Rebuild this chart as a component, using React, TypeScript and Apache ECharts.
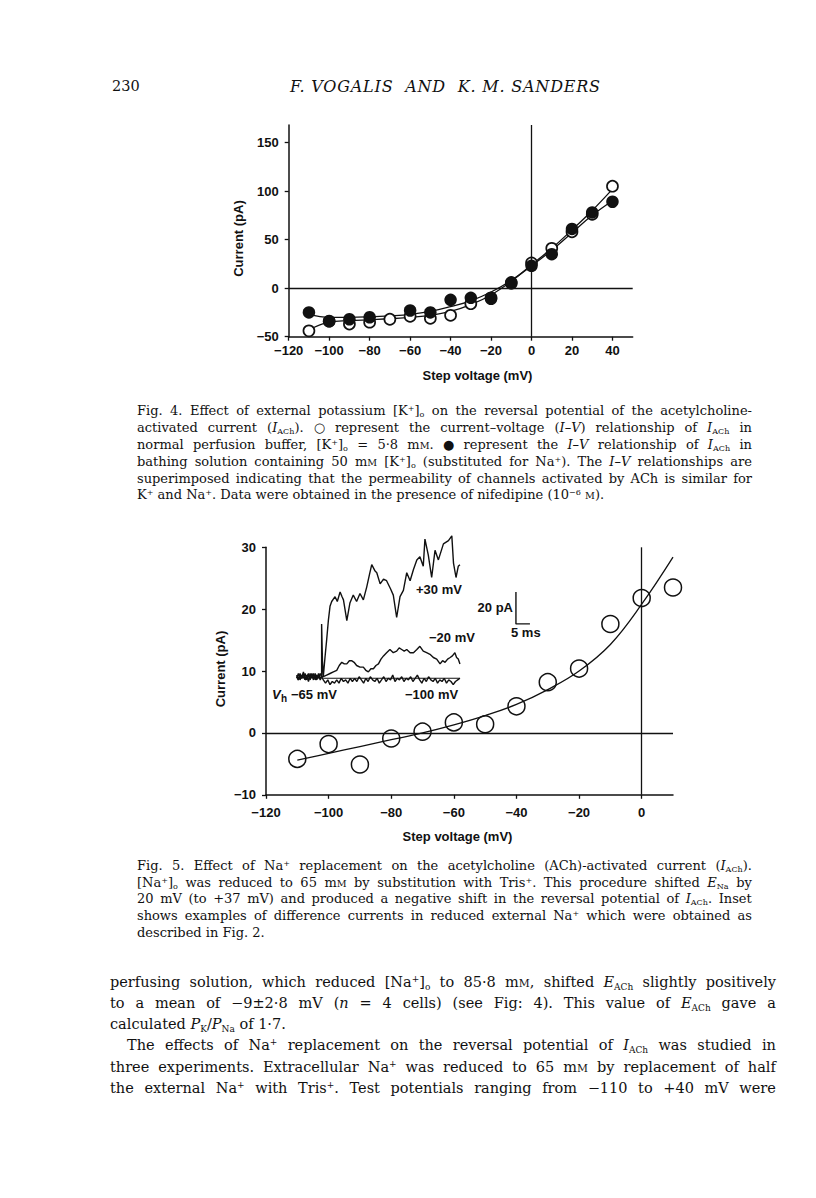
import React, { useEffect, useRef } from "react";
import * as echarts from "echarts";

// ---------- Fig. 4 data ----------
const fig4Volts = [-110, -100, -90, -80, -70, -60, -50, -40, -30, -20, -10, 0, 10, 20, 30, 40];
const fig4Open = [-44, -34, -37, -35, -32, -29, -31, -28, -16, -10, 5, 26, 41, 58, 76, 105];
const fig4FilledVolts = [-110, -100, -90, -80, -60, -50, -40, -30, -20, -10, 0, 10, 20, 30, 40];
const fig4Filled = [-25, -34, -32, -30, -23, -25, -12, -10, -11, 6, 23, 35, 61, 78, 89];
const fig4FitOpen = [-43, -35, -33.5, -32.5, -31.5, -30, -28, -24, -17, -7, 7, 24, 41, 60, 80, 102];
const fig4FitFilled = [-27, -30, -30, -29.5, -28.5, -27, -24, -19, -13, -4, 8, 23, 39, 57, 75, 90];
const fig4XTicks = [-120, -100, -80, -60, -40, -20, 0, 20, 40];
const fig4YTicks = [-50, 0, 50, 100, 150];

// ---------- Fig. 5 data ----------
const fig5Volts = [-110, -100, -90, -80, -70, -60, -50, -40, -30, -20, -10, 0, 10];
const fig5Current = [-4.2, -1.8, -5.1, -0.9, 0.2, 1.7, 1.4, 4.3, 8.2, 10.4, 17.6, 21.8, 23.5];
const fig5Fit = [-4.4, -3.3, -2.2, -1.1, 0, 1.3, 2.8, 4.6, 7, 10, 14.3, 20.8, 28.4];
const fig5XTicks = [-120, -100, -80, -60, -40, -20, 0];
const fig5YTicks = [-10, 0, 10, 20, 30];

// ---------- Inset traces: [time ms, current pA] ----------
const tracePlus30 = [
  [0, 1], [0.6, -2], [1.2, 2], [1.8, -1], [2.4, 3], [3, -2], [3.6, 1], [4.2, -3], [4.8, 2], [5.4, -1],
  [6, 2], [6.6, -2], [7.2, 1], [7.8, -1], [8.4, 2], [8.9, 0], [8.9, 33], [9.2, 10], [9.5, 0], [10.1, 12],
  [10.7, 23], [11.3, 35], [11.9, 44], [12.5, 47], [13.7, 50], [14.5, 47], [15.5, 53], [16.2, 50], [16.7, 48],
  [17.9, 35], [19, 46], [20.2, 51], [21.4, 47], [22.6, 52], [23.8, 48], [25, 56], [26, 64], [26.8, 70],
  [28, 66], [28.6, 65], [29.8, 58], [31, 61], [32.1, 60], [33.5, 55], [34.5, 51], [35.7, 37], [36.9, 50],
  [38.1, 54], [39.3, 65], [40.5, 60], [41.7, 67], [42.9, 73], [44, 75], [45.2, 69], [45.8, 86], [47, 76],
  [48.2, 62], [49.4, 79], [50.6, 73], [52.4, 83], [54.2, 85], [55.4, 88], [56, 71], [56.9, 62], [57.7, 69],
  [58.3, 70],
];
const traceMinus20 = [
  [0, -1], [0.6, 2], [1.2, -2], [1.8, 1], [2.4, -1], [3, 2], [3.6, -2], [4.2, 1], [4.8, -2], [5.4, 2],
  [6, -1], [6.6, 1], [7.2, -2], [7.8, 2], [8.4, -1], [8.9, 0], [9.5, 0], [10.7, 1], [11.9, 2], [13.1, 3],
  [14.3, 4], [15.2, 7], [16.1, 9], [17, 8], [17.9, 8], [18.8, 10], [19.6, 10], [20.5, 9], [21.4, 7],
  [22.6, 6], [23.8, 6], [24.7, 4], [25.6, 3], [26.5, 5], [27.4, 5], [28.3, 7], [29.2, 8], [30.1, 11],
  [31, 13], [32.1, 15], [33.3, 17], [34.5, 15], [35.7, 16], [36.6, 18], [37.5, 17], [38.4, 16], [39.3, 17],
  [40.5, 15], [41.7, 15], [42.9, 17], [44, 19], [45.2, 16], [46.4, 15], [47.6, 14], [48.8, 12], [50, 11],
  [51.2, 8], [52.1, 10], [53, 9], [53.9, 11], [54.8, 12], [55.6, 13], [56.5, 15], [57.1, 12], [57.7, 11],
  [58.3, 8],
];
const traceMinus100 = [
  [0, 0], [0.6, -2], [1.2, 1], [1.8, -1], [2.4, 2], [3, -2], [3.6, 0], [4.2, 2], [4.8, -1], [5.4, 1],
  [6, -2], [6.6, 2], [7.2, -1], [7.8, 1], [8.4, -2], [8.9, 0], [9.5, -2], [10.3, -4], [11.1, -2], [11.9, -5],
  [12.7, -3], [13.5, -4], [14.3, -2], [15.1, -4], [15.9, -1], [16.7, -3], [17.5, -2], [18.3, -4], [19.1, -1],
  [19.9, -3], [20.7, -1], [21.5, -3], [22.3, 0], [23.1, -2], [23.9, -4], [24.7, -1], [25.5, -3], [26.3, 0],
  [27.1, -2], [27.9, -3], [28.7, -1], [29.5, -4], [30.3, -2], [31.1, 0], [31.9, -3], [32.7, -1], [33.5, -2],
  [34.3, 1], [35.1, -3], [35.9, -1], [36.7, -2], [37.5, 0], [38.3, -3], [39.1, -1], [39.9, -2], [40.7, 0],
  [41.5, -3], [42.3, -1], [43.1, 1], [43.9, -2], [44.7, -4], [45.5, -1], [46.3, -3], [47.1, 0], [47.9, -2],
  [48.7, -3], [49.5, -1], [50.3, -4], [51.1, -2], [51.9, -3], [52.7, -1], [53.5, -4], [54.3, -2], [55.1, -3],
  [55.9, -5], [56.7, -3], [57.5, -2], [58.3, -1],
];
const insetBaseline = [[9.5, -1], [58.3, -1]];
const scaleBar = [[78.3, 53], [78.3, 33], [83.3, 33]];

// ---------- Page text ----------
const fig4Caption = [
  "Fig. 4. Effect of external potassium [K<sup>+</sup>]<sub>o</sub> on the reversal potential of the acetylcholine-",
  "activated current (<i>I</i><sub>ACh</sub>). ○ represent the current–voltage (<i>I–V</i>) relationship of <i>I</i><sub>ACh</sub> in",
  "normal perfusion buffer, [K<sup>+</sup>]<sub>o</sub> = 5·8 m<small>M</small>. ● represent the <i>I–V</i> relationship of <i>I</i><sub>ACh</sub> in",
  "bathing solution containing 50 m<small>M</small> [K<sup>+</sup>]<sub>o</sub> (substituted for Na<sup>+</sup>). The <i>I–V</i> relationships are",
  "superimposed indicating that the permeability of channels activated by ACh is similar for",
  "K<sup>+</sup> and Na<sup>+</sup>. Data were obtained in the presence of nifedipine (10<sup>−6</sup> <small>M</small>).",
];
const fig5Caption = [
  "Fig. 5. Effect of Na<sup>+</sup> replacement on the acetylcholine (ACh)-activated current (<i>I</i><sub>ACh</sub>).",
  "[Na<sup>+</sup>]<sub>o</sub> was reduced to 65 m<small>M</small> by substitution with Tris<sup>+</sup>. This procedure shifted <i>E</i><sub>Na</sub> by",
  "20 mV (to +37 mV) and produced a negative shift in the reversal potential of <i>I</i><sub>ACh</sub>. Inset",
  "shows examples of difference currents in reduced external Na<sup>+</sup> which were obtained as",
  "described in Fig. 2.",
];
const bodyLines = [
  "perfusing solution, which reduced [Na<sup>+</sup>]<sub>o</sub> to 85·8 m<small>M</small>, shifted <i>E</i><sub>ACh</sub> slightly positively",
  "to a mean of −9±2·8 mV (<i>n</i> = 4 cells) (see Fig: 4). This value of <i>E</i><sub>ACh</sub> gave a",
  "calculated <i>P</i><sub>K</sub>/<i>P</i><sub>Na</sub> of 1·7.",
  "The effects of Na<sup>+</sup> replacement on the reversal potential of <i>I</i><sub>ACh</sub> was studied in",
  "three experiments. Extracellular Na<sup>+</sup> was reduced to 65 m<small>M</small> by replacement of half",
  "the external Na<sup>+</sup> with Tris<sup>+</sup>. Test potentials ranging from −110 to +40 mV were",
];

const fig4CaptionY = [410, 427, 444, 461, 478, 494];
const fig5CaptionY = [865, 882, 898, 915, 932];
const bodyY = [982, 1003, 1024, 1045, 1067, 1088];

const SANS = "'Liberation Sans', Arial, Helvetica, sans-serif";
const SERIF = "'DejaVu Serif', 'Liberation Serif', serif";
const INK = "#111";

const fmt = (v: number) => (v < 0 ? "\u2212" + Math.abs(v) : String(v));

function zip(xs: number[], ys: number[]) {
  return xs.map((x, i) => [x, ys[i]]);
}

function valueAxis(grid: number, min: number, max: number, ticks: number[] | null, margin: number) {
  const base: any = {
    type: "value",
    gridIndex: grid,
    min,
    max,
    axisLine: { show: true, onZero: false, lineStyle: { color: INK, width: 1.5 } },
    axisTick: { show: true, length: 4, lineStyle: { color: INK, width: 1.3 } },
    splitLine: { show: false },
    axisLabel: {
      color: INK,
      fontFamily: SANS,
      fontWeight: "bold",
      fontSize: 13,
      margin,
      formatter: fmt,
    },
  };
  if (ticks) {
    base.axisTick.customValues = ticks;
    base.axisLabel.customValues = ticks;
  }
  return base;
}

const zeroMark = {
  silent: true,
  symbol: ["none", "none"],
  label: { show: false },
  lineStyle: { color: INK, width: 1.3, type: "solid" },
  data: [{ xAxis: 0 }, { yAxis: 0 }],
};

function txt(text: string, x: number, y: number, opts: any = {}) {
  return {
    type: "text",
    x,
    y,
    rotation: opts.rotation || 0,
    style: {
      text,
      x: 0,
      y: 0,
      fill: INK,
      font: `${opts.italic ? "italic " : ""}${opts.weight || "bold"} ${opts.size || 13}px ${SANS}`,
      align: opts.align || "center",
      verticalAlign: "middle",
    },
  };
}

function buildOption(): any {
  return {
    animation: false,
    backgroundColor: "transparent",
    grid: [
      { left: 288.7, top: 125, width: 344, height: 211.7 },
      { left: 266, top: 547.3, width: 407, height: 247.5 },
      { left: 296.7, top: 532.7, width: 252, height: 160 },
    ],
    xAxis: [
      valueAxis(0, -120, 50, fig4XTicks, 7),
      valueAxis(1, -120, 10, fig5XTicks, 11),
      { type: "value", gridIndex: 2, min: 0, max: 90, show: false },
    ],
    yAxis: [
      valueAxis(0, -50, 168, fig4YTicks, 10),
      valueAxis(1, -10, 30, fig5YTicks, 10),
      { type: "value", gridIndex: 2, min: -10, max: 90, show: false },
    ],
    series: [
      {
        type: "line", xAxisIndex: 0, yAxisIndex: 0, data: zip(fig4Volts, fig4FitOpen),
        smooth: 0.4, symbol: "none", lineStyle: { color: INK, width: 1.3 }, z: 2, markLine: zeroMark,
      },
      {
        type: "line", xAxisIndex: 0, yAxisIndex: 0, data: zip(fig4Volts, fig4FitFilled),
        smooth: 0.4, symbol: "none", lineStyle: { color: INK, width: 1.3 }, z: 2,
      },
      {
        type: "scatter", xAxisIndex: 0, yAxisIndex: 0, data: zip(fig4Volts, fig4Open),
        symbol: "circle", symbolSize: 11, itemStyle: { color: "#fff", borderColor: INK, borderWidth: 1.7, opacity: 1 }, z: 3,
      },
      {
        type: "scatter", xAxisIndex: 0, yAxisIndex: 0, data: zip(fig4FilledVolts, fig4Filled),
        symbol: "circle", symbolSize: 12.5, itemStyle: { color: INK, opacity: 1 }, z: 4,
      },
      {
        type: "line", xAxisIndex: 1, yAxisIndex: 1, data: zip(fig5Volts, fig5Fit),
        smooth: 0.4, symbol: "none", lineStyle: { color: INK, width: 1.3 }, z: 2, markLine: zeroMark,
      },
      {
        type: "scatter", xAxisIndex: 1, yAxisIndex: 1, data: zip(fig5Volts, fig5Current),
        symbol: "circle", symbolSize: 17, itemStyle: { color: "rgba(255,255,255,0)", borderColor: INK, borderWidth: 1.5, opacity: 1 }, z: 3,
      },
      {
        type: "line", xAxisIndex: 2, yAxisIndex: 2, data: tracePlus30,
        symbol: "none", lineStyle: { color: INK, width: 1.4 }, z: 5,
      },
      {
        type: "line", xAxisIndex: 2, yAxisIndex: 2, data: traceMinus20,
        symbol: "none", lineStyle: { color: INK, width: 1.4 }, z: 5,
      },
      {
        type: "line", xAxisIndex: 2, yAxisIndex: 2, data: traceMinus100,
        symbol: "none", lineStyle: { color: INK, width: 1.4 }, z: 5,
      },
      {
        type: "line", xAxisIndex: 2, yAxisIndex: 2, data: insetBaseline,
        symbol: "none", lineStyle: { color: INK, width: 1.1 }, z: 5,
      },
      {
        type: "line", xAxisIndex: 2, yAxisIndex: 2, data: scaleBar,
        symbol: "none", lineStyle: { color: INK, width: 1.4 }, z: 5,
      },
    ],
    graphic: [
      txt("Current (pA)", 238, 238.5, { rotation: Math.PI / 2 }),
      txt("Step voltage (mV)", 477.5, 375),
      txt("Current (pA)", 220, 669, { rotation: Math.PI / 2 }),
      txt("Step voltage (mV)", 457.5, 836.7),
      txt("+30 mV", 416, 589, { align: "left" }),
      txt("20 pA", 513, 607, { align: "right" }),
      txt("5 ms", 511, 632, { align: "left" }),
      txt("\u221220 mV", 429, 637, { align: "left" }),
      txt("V", 272, 694, { align: "left", italic: true }),
      txt("h", 281, 698, { align: "left", size: 10 }),
      txt("\u221265 mV", 291, 694, { align: "left" }),
      txt("\u2212100 mV", 405, 694, { align: "left" }),
    ],
  };
}

function TextLine(props: { html: string; x: number; y: number; w: number; size: number; justify: boolean; italic?: boolean; spacing?: number }) {
  const { html, x, y, w, size, justify, italic, spacing } = props;
  const lh = Math.round(size * 1.3);
  const style: any = {
    position: "absolute",
    left: x,
    top: y - lh / 2,
    width: w,
    height: lh,
    lineHeight: lh + "px",
    fontSize: size,
    fontFamily: SERIF,
    fontStyle: italic ? "italic" : "normal",
    letterSpacing: spacing ? spacing + "px" : "normal",
    color: INK,
    whiteSpace: "nowrap",
  };
  if (justify) {
    const words = html.split(" ");
    return (
      <div style={{ ...style, display: "flex", justifyContent: "space-between" }}>
        {words.map((wd, i) => (
          <span key={i} dangerouslySetInnerHTML={{ __html: wd }} />
        ))}
      </div>
    );
  }
  return <div style={style} dangerouslySetInnerHTML={{ __html: html }} />;
}

export default function App() {
  const ref = useRef<HTMLDivElement>(null);
  useEffect(() => {
    if (!ref.current) return;
    const chart = echarts.init(ref.current, null, { renderer: "svg", width: 816, height: 1198 });
    chart.setOption(buildOption());
    return () => chart.dispose();
  }, []);

  const capX = 137;
  const capW = 615;
  const bodyX = 110;
  const bodyW = 666;
  const indent = 17;

  return (
    <div className="pg" style={{ position: "absolute", left: 0, top: 0, width: 816, height: 1198, background: "#fff", overflow: "hidden" }}>
      <style>{`
        .pg sub { font-size: 0.62em; vertical-align: -0.28em; line-height: 0; }
        .pg sup { font-size: 0.62em; vertical-align: 0.55em; line-height: 0; }
        .pg small { font-size: 0.74em; }
      `}</style>
      <div ref={ref} style={{ position: "absolute", left: 0, top: 0, width: 816, height: 1198 }} />
      <TextLine html="230" x={112} y={86} w={40} size={14.5} justify={false} />
      <TextLine html="F. VOGALIS&nbsp;&nbsp;AND&nbsp;&nbsp;K. M. SANDERS" x={290} y={86} w={330} size={16} justify={false} italic={true} spacing={0.8} />
      {fig4Caption.map((l, i) => (
        <TextLine key={"c4" + i} html={l} x={capX} y={fig4CaptionY[i]} w={capW} size={13} justify={i < fig4Caption.length - 1} />
      ))}
      {fig5Caption.map((l, i) => (
        <TextLine key={"c5" + i} html={l} x={capX} y={fig5CaptionY[i]} w={capW} size={13} justify={i < fig5Caption.length - 1} />
      ))}
      {bodyLines.map((l, i) => (
        <TextLine
          key={"b" + i}
          html={l}
          x={i === 3 ? bodyX + indent : bodyX}
          y={bodyY[i]}
          w={i === 3 ? bodyW - indent : bodyW}
          size={14.5}
          justify={i !== 2}
        />
      ))}
    </div>
  );
}
